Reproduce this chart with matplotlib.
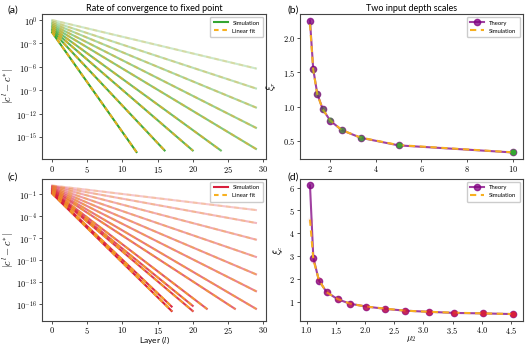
import numpy as np
import matplotlib
matplotlib.use('Agg')
import matplotlib.pyplot as plt
from matplotlib.ticker import FuncFormatter, FixedLocator, NullLocator

plt.rcParams['mathtext.fontset'] = 'cm'
plt.rcParams['font.family'] = ['Lato', 'DejaVu Sans']

# ---- panel (a): one-input convergence, log10 |c^l - c*| ----
a_start = [-1.6, -1.4, -1.2, -1.0, -0.8, -0.6, -0.4, -0.2, 0.0]
a_end_layer = [12, 16, 20, 24, 29, 29, 29, 29, 29]
a_end = [-16.9, -16.7, -16.7, -16.7, -16.5, -13.8, -11.2, -8.76, -6.2]

# ---- panel (b): depth scale vs input ----
b_x = [1.11, 1.25, 1.43, 1.67, 2.0, 2.5, 3.33, 5.0, 10.0]
b_theory = [2.253, 1.551, 1.186, 0.962, 0.795, 0.659, 0.547, 0.436, 0.333]
b_sim = [2.20, 1.54, 1.18, 0.96, 0.80, 0.66, 0.55, 0.44, 0.335]

# ---- panel (c): two-input convergence ----
c_start = [-1.0, -0.9, -0.8, -0.7, -0.6, -0.5, -0.4, -0.3, -0.2, -0.1, 0.0, 0.05, 0.1]
c_end_layer = [17, 17, 20, 20, 22, 26, 29, 29, 29, 29, 29, 29, 29]
c_end = [-17.0, -16.4, -17.0, -16.3, -16.7, -16.7, -16.7, -14.3, -12.0, -9.63, -7.27, -5.0, -3.24]

# ---- panel (d): depth scale vs mu2 ----
d_x = [1.057, 1.114, 1.21, 1.34, 1.53, 1.75, 2.02, 2.34, 2.68, 3.09, 3.53, 4.02, 4.53]
d_theory = [6.1, 2.93, 1.93, 1.43, 1.11, 0.91, 0.79, 0.69, 0.61, 0.56, 0.51, 0.49, 0.46]
d_sim = [4.6, 2.85, 1.95, 1.42, 1.12, 0.91, 0.79, 0.70, 0.61, 0.56, 0.52, 0.49, 0.46]

GREEN = '#34a532'
RED = '#d81e3c'
ORANGE = '#f7b020'
PURPLE = 'purple'

fig = plt.figure(figsize=(5.27, 3.45), dpi=100)
ax_a = fig.add_axes([0.0797, 0.539, 0.4253, 0.4203])
ax_b = fig.add_axes([0.569, 0.539, 0.423, 0.4203])
ax_c = fig.add_axes([0.0797, 0.071, 0.4253, 0.4103])
ax_d = fig.add_axes([0.569, 0.071, 0.423, 0.4103])

dash = (2.2, 1.8)


def conv_panel(ax, starts, ends_l, ends, col):
    n = len(starts)
    alphas = np.linspace(1.0, 0.25, n)
    for i in range(n):
        xs = [0, ends_l[i]]
        ys = [10 ** starts[i], 10 ** ends[i]]
        ax.plot(xs, ys, color=col, lw=1.5, alpha=alphas[i],
                label='Simulation' if i == 0 else None)
        ax.plot(xs, ys, color=ORANGE, lw=1.5, alpha=alphas[i] * 0.9, dashes=dash,
                label='Linear fit' if i == 0 else None)
    ax.set_yscale('log')
    ax.yaxis.set_minor_locator(NullLocator())
    ax.yaxis.set_major_formatter(FuncFormatter(
        lambda v, p: r'$10^{%d}$' % int(round(np.log10(v)))))
    ax.xaxis.set_major_formatter(FuncFormatter(lambda v, p: r'$%d$' % v))
    ax.set_xticks([0, 5, 10, 15, 20, 25, 30])
    ax.set_xlim(-1.45, 30.45)
    ax.set_ylabel(r'$|c^l - c^{*}|$', fontsize=7.5, labelpad=0)
    leg = ax.legend(loc='upper right', fontsize=4.2, handlelength=2.4,
                    borderpad=0.6, labelspacing=0.5, framealpha=1)
    for lh in leg.get_lines():
        lh.set_alpha(1)


conv_panel(ax_a, a_start, a_end_layer, a_end, GREEN)
ax_a.set_ylim(10 ** -17.8, 10 ** 0.77)
ax_a.yaxis.set_major_locator(FixedLocator([10.0 ** k for k in range(0, -16, -3)]))
ax_a.set_title('Rate of convergence to fixed point', fontsize=6.5, pad=2)

conv_panel(ax_c, c_start, c_end_layer, c_end, RED)
ax_c.set_ylim(10 ** -18.3, 10 ** 1.0)
ax_c.yaxis.set_major_locator(FixedLocator([10.0 ** k for k in range(-1, -17, -3)]))
ax_c.set_xlabel(r'Layer ($l$)', fontsize=6, labelpad=-1)


def depth_panel(ax, x, th, sim, col):
    n = len(x)
    ax.plot(x, th, color=PURPLE, lw=1.5, marker='o', ms=4.5, alpha=0.75,
            label='Theory')
    ax.plot(x, sim, color=ORANGE, lw=1.5, dashes=(3, 2.2), label='Simulation')
    alphas = np.linspace(0.05, 1.0, n)
    for i in range(n):
        ax.scatter(x[i], sim[i], s=20, color=col, alpha=alphas[i], lw=0, zorder=3)
    ax.legend(loc='upper right', fontsize=4.2, handlelength=2.4,
              borderpad=0.6, labelspacing=0.5, framealpha=1)


depth_panel(ax_b, b_x, b_theory, b_sim, GREEN)
ax_b.set_xticks([2, 4, 6, 8, 10])
ax_b.xaxis.set_major_formatter(FuncFormatter(lambda v, p: r'$%d$' % v))
ax_b.set_yticks([0.5, 1.0, 1.5, 2.0])
ax_b.yaxis.set_major_formatter(FuncFormatter(lambda v, p: r'$%.1f$' % v))
ax_b.set_ylabel(r'$\xi_r$', fontsize=7.5, labelpad=3)
ax_b.set_title('Two input depth scales', fontsize=6.5, pad=2)

depth_panel(ax_d, d_x, d_theory, d_sim, RED)
ax_d.set_xticks([1.0, 1.5, 2.0, 2.5, 3.0, 3.5, 4.0, 4.5])
ax_d.xaxis.set_major_formatter(FuncFormatter(lambda v, p: r'$%.1f$' % v))
ax_d.set_yticks([1, 2, 3, 4, 5, 6])
ax_d.yaxis.set_major_formatter(FuncFormatter(lambda v, p: r'$%d$' % v))
ax_d.set_ylabel(r'$\xi_c$', fontsize=7.5, labelpad=3)
ax_d.set_xlabel(r'$\mu_2$', fontsize=6.5, labelpad=-1.5)

for ax in [ax_a, ax_b, ax_c, ax_d]:
    ax.tick_params(labelsize=6, length=2, width=0.6, pad=1.5, color='#333333')
    for s in ax.spines.values():
        s.set_color('#444444')
        s.set_linewidth(0.8)

fig.text(0.015, 0.972, '(a)', fontsize=7.5, va='center')
fig.text(0.015, 0.487, '(c)', fontsize=7.5, va='center')
fig.text(0.545, 0.972, '(b)', fontsize=7.5, va='center')
fig.text(0.545, 0.487, '(d)', fontsize=7.5, va='center')

fig.savefig('out.png', dpi=100)
